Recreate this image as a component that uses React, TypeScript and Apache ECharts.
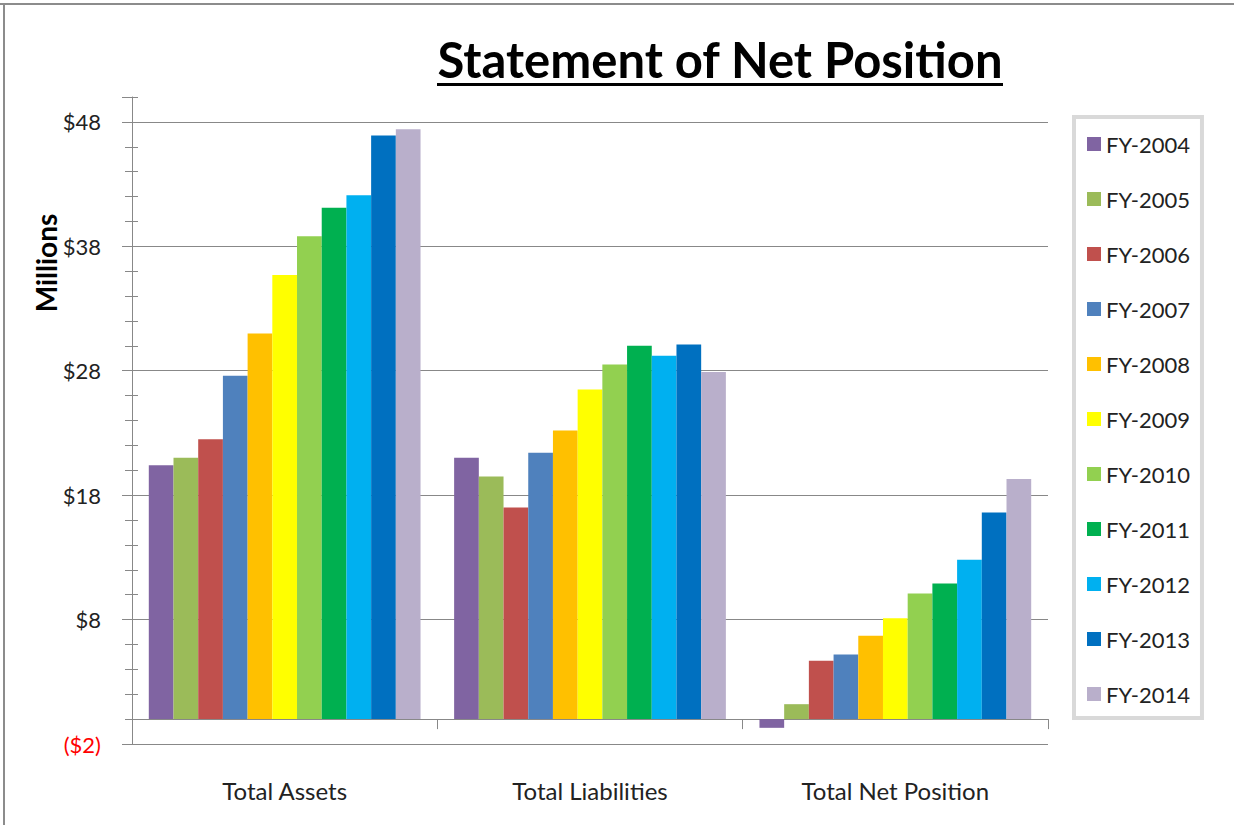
import React, { useEffect, useRef } from "react";
import * as echarts from "echarts";

const categories = ["Total Assets", "Total Liabilities", "Total Net Position"];
const years = ["FY-2004", "FY-2005", "FY-2006", "FY-2007", "FY-2008", "FY-2009", "FY-2010", "FY-2011", "FY-2012", "FY-2013", "FY-2014"];
const colors = ["#8064A2", "#9BBB59", "#C0504D", "#4F81BD", "#FFC000", "#FFFF00", "#92D050", "#00B050", "#00B0F0", "#0070C0", "#B9AFCB"];

// values in millions, per fiscal year: [Total Assets, Total Liabilities, Total Net Position]
const fy2004 = [20.4, 21.0, -0.7];
const fy2005 = [21.0, 19.5, 1.2];
const fy2006 = [22.5, 17.0, 4.7];
const fy2007 = [27.6, 21.4, 5.2];
const fy2008 = [31.0, 23.2, 6.7];
const fy2009 = [35.7, 26.5, 8.1];
const fy2010 = [38.8, 28.5, 10.1];
const fy2011 = [41.1, 30.0, 10.9];
const fy2012 = [42.1, 29.2, 12.8];
const fy2013 = [46.9, 30.1, 16.6];
const fy2014 = [47.4, 27.9, 19.3];
const seriesValues = [fy2004, fy2005, fy2006, fy2007, fy2008, fy2009, fy2010, fy2011, fy2012, fy2013, fy2014];

const yMin = -2;
const yMax = 50;
const minorStep = 2;
const majorStep = 10;

const FONT = "Lato";
const TEXT = "#222222";
const AXIS = "#888888";

export default function App() {
  const ref = useRef<HTMLDivElement>(null);
  useEffect(() => {
    if (!ref.current) return;
    const chart = echarts.init(ref.current, null, { renderer: "svg" });
    const option: any = {
      animation: false,
      backgroundColor: "#ffffff",
      textStyle: { fontFamily: FONT },
      grid: { left: 132, right: 186, top: 97, bottom: 81, containLabel: false },
      legend: {
        orient: "vertical",
        left: 1074,
        top: 117,
        data: years,
        icon: "rect",
        itemWidth: 14,
        itemHeight: 14,
        itemGap: 33,
        padding: [16, 12, 13, 13],
        borderColor: "#d9d9d9",
        borderWidth: 4,
        textStyle: { fontFamily: FONT, fontSize: 22, lineHeight: 22, color: TEXT },
      },
      xAxis: {
        type: "category",
        data: categories,
        axisLine: { onZero: true, onZeroAxisIndex: 0, lineStyle: { color: AXIS, width: 1 } },
        axisTick: { show: true, length: 10, lineStyle: { color: AXIS } },
        axisLabel: { margin: 34, fontFamily: FONT, fontSize: 24, color: TEXT },
        splitLine: { show: false },
      },
      yAxis: [
        {
          type: "value",
          min: yMin,
          max: yMax,
          interval: minorStep,
          position: "left",
          axisLine: { show: true, lineStyle: { color: AXIS } },
          axisTick: { show: true, inside: false, length: 7, lineStyle: { color: AXIS } },
          splitLine: { show: false },
          axisLabel: {
            margin: 31,
            fontFamily: FONT,
            fontSize: 22,
            color: TEXT,
            formatter: (v: number) => {
              const r = Math.round(v);
              if ((r - yMin) % majorStep !== 0) return "";
              return r < 0 ? "{neg|($" + -r + ")}" : "$" + r;
            },
            rich: { neg: { color: "#ff0000", fontFamily: FONT, fontSize: 22 } },
          },
        },
        {
          type: "value",
          min: yMin,
          max: yMax,
          interval: minorStep,
          position: "left",
          axisLine: { show: false },
          axisTick: { show: true, inside: true, length: 6, lineStyle: { color: AXIS } },
          axisLabel: { show: false },
          splitLine: { show: false },
        },
        {
          type: "value",
          min: 0,
          max: yMax - yMin,
          interval: majorStep,
          position: "left",
          axisLine: { show: false },
          axisTick: { show: true, inside: false, length: 10, lineStyle: { color: AXIS } },
          axisLabel: { show: false },
          splitLine: { show: true, showMaxLine: false, lineStyle: { color: AXIS, width: 1 } },
        },
      ],
      series: years.map((y, i) => ({
        name: y,
        type: "bar",
        yAxisIndex: 0,
        data: seriesValues[i],
        itemStyle: { color: colors[i] },
        barGap: "0%",
        barCategoryGap: "11%",
      })),
      graphic: [
        { type: "line", shape: { x1: 0, y1: 4, x2: 1234, y2: 4 }, style: { stroke: "#8c8c8c", lineWidth: 2 } },
        { type: "line", shape: { x1: 4, y1: 3, x2: 4, y2: 825 }, style: { stroke: "#8c8c8c", lineWidth: 2 } },
        {
          type: "text",
          x: 720,
          y: 59,
          style: {
            text: "Statement of Net Position",
            fontFamily: FONT,
            fontWeight: "bold",
            fontSize: 49,
            fill: "#000000",
            textAlign: "center",
            textVerticalAlign: "middle",
          },
        },
        { type: "rect", shape: { x: 437, y: 83, width: 566, height: 3 }, style: { fill: "#000000" } },
        {
          type: "text",
          x: 46,
          y: 263,
          rotation: Math.PI / 2,
          style: {
            text: "Millions",
            fontFamily: FONT,
            fontWeight: "bold",
            fontSize: 28,
            fill: "#000000",
            textAlign: "center",
            textVerticalAlign: "middle",
          },
        },
      ],
    };
    chart.setOption(option);
    return () => chart.dispose();
  }, []);
  return (
    <div
      ref={ref}
      style={{ position: "absolute", left: 0, top: 0, width: 1234, height: 825, background: "#fff" }}
    />
  );
}
